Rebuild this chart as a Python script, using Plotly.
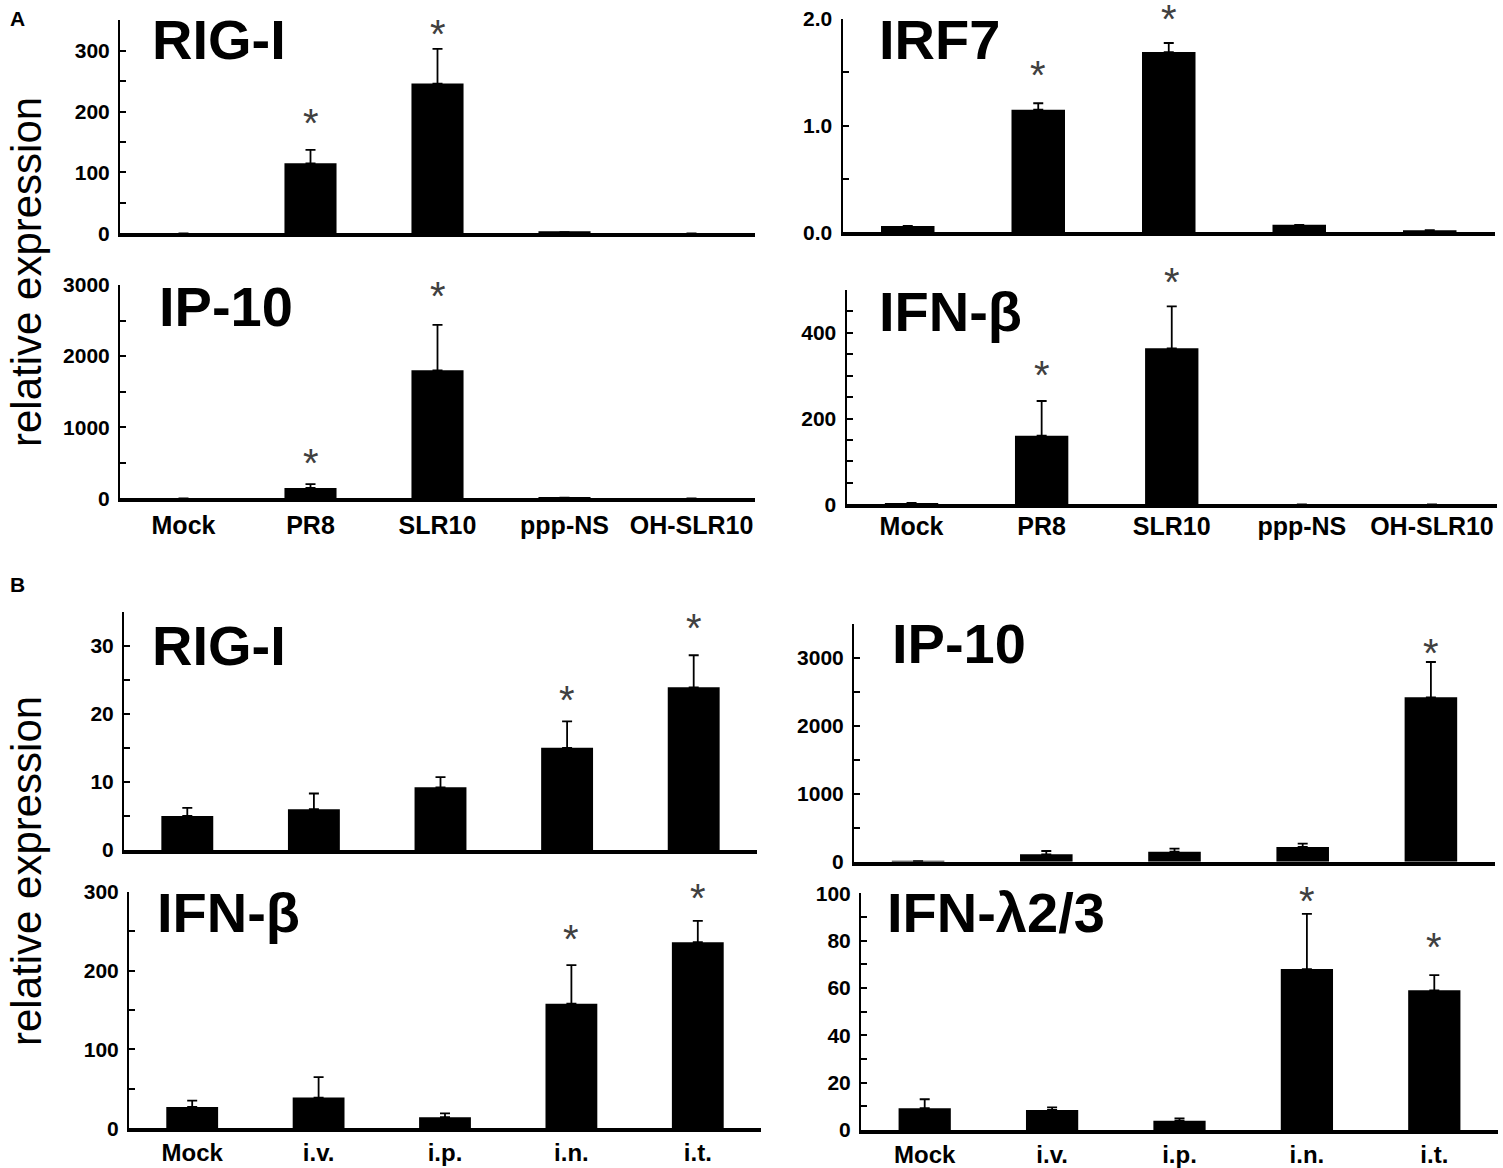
import plotly.graph_objects as go

W, H = 1503, 1168

# ---------------- data ----------------
cats_A = ["Mock", "PR8", "SLR10", "ppp-NS", "OH-SLR10"]
cats_B = ["Mock", "i.v.", "i.p.", "i.n.", "i.t."]

# Panel A
a_rig_val = [0, 115, 246, 2, 0]
a_rig_err = [0, 22, 57, 0, 0]
a_rig_star = [None, 190, 336, None, None]
a_rig_ticks = [0, 50, 100, 150, 200, 250, 300, 350]
a_rig_labels = ["0", "", "100", "", "200", "", "300", ""]

a_irf_val = [0.06, 1.15, 1.69, 0.07, 0.02]
a_irf_err = [0, 0.06, 0.085, 0, 0]
a_irf_star = [None, 1.52, 2.05, None, None]
a_irf_ticks = [0, 0.5, 1.0, 1.5, 2.0]
a_irf_labels = ["0.0", "", "1.0", "", "2.0"]

a_ip_val = [0, 145, 1800, 8, 0]
a_ip_err = [0, 55, 640, 0, 0]
a_ip_star = [None, 567, 2910, None, None]
a_ip_ticks = [0, 500, 1000, 1500, 2000, 2500, 3000]
a_ip_labels = ["0", "", "1000", "", "2000", "", "3000"]

a_ifn_val = [3, 160, 364, 0, 0]
a_ifn_err = [0, 81, 98, 0, 0]
a_ifn_star = [None, 313, 530, None, None]
a_ifn_ticks = [0, 50, 100, 150, 200, 250, 300, 350, 400, 450, 500]
a_ifn_labels = ["0", "", "", "", "200", "", "", "", "400", "", ""]

# Panel B
b_rig_val = [5.0, 6.0, 9.2, 15.0, 23.9]
b_rig_err = [1.2, 2.3, 1.5, 3.9, 4.7]
b_rig_star = [None, None, None, 22.8, 33.3]
b_rig_ticks = [0, 5, 10, 15, 20, 25, 30, 35]
b_rig_labels = ["0", "", "10", "", "20", "", "30", ""]

b_ip_val = [8, 108, 147, 216, 2417]
b_ip_err = [0, 49, 44, 49, 520]
b_ip_star = [None, None, None, None, 3138]
b_ip_ticks = [0, 500, 1000, 1500, 2000, 2500, 3000, 3500]
b_ip_labels = ["0", "", "1000", "", "2000", "", "3000", ""]

b_ifn_val = [27, 39, 14, 158, 236]
b_ifn_err = [8, 26, 5, 49, 27]
b_ifn_star = [None, None, None, 246, 298]
b_ifn_ticks = [0, 50, 100, 150, 200, 250, 300]
b_ifn_labels = ["0", "", "100", "", "200", "", "300"]

b_lam_val = [9.2, 8.5, 3.9, 68, 59]
b_lam_err = [3.8, 1.1, 1.0, 23.3, 6.4]
b_lam_star = [None, None, None, 98.9, 79.6]
b_lam_ticks = [0, 10, 20, 30, 40, 50, 60, 70, 80, 90, 100]
b_lam_labels = ["0", "", "20", "", "40", "", "60", "", "80", "", "100"]

titles = ["RIG-I", "IRF7", "IP-10", "IFN-β", "RIG-I", "IP-10", "IFN-β", "IFN-λ2/3"]
y_title = "relative expression"


# ---------------- layout helpers ----------------
def fx(px):
    return min(max(px / W, 0.0), 1.0)


def fy(py):
    return min(max(1 - py / H, 0.0), 1.0)


panels = [
    # cats, values, errors, stars, ticks, tick labels, x px, y px,
    # (x label standoff, size) or None, title px
    (cats_A, a_rig_val, a_rig_err, a_rig_star, a_rig_ticks, a_rig_labels, (120, 755), (20.3, 233.3), None, (150, 39)),
    (cats_A, a_irf_val, a_irf_err, a_irf_star, a_irf_ticks, a_irf_labels, (842.5, 1495), (19, 232.3), None, (877, 39)),
    (cats_A, a_ip_val, a_ip_err, a_ip_star, a_ip_ticks, a_ip_labels, (120, 755), (285, 498.3), (2, 25), (157, 306)),
    (cats_A, a_ifn_val, a_ifn_err, a_ifn_star, a_ifn_ticks, a_ifn_labels, (846.5, 1497), (290, 504.3), (-3, 25), (877, 311)),
    (cats_B, b_rig_val, b_rig_err, b_rig_star, b_rig_ticks, b_rig_labels, (124, 757), (611.7, 850), None, (150, 645)),
    (cats_B, b_ip_val, b_ip_err, b_ip_star, b_ip_ticks, b_ip_labels, (854, 1495), (623.7, 861.7), None, (890, 643)),
    (cats_B, b_ifn_val, b_ifn_err, b_ifn_star, b_ifn_ticks, b_ifn_labels, (129, 761), (891.7, 1128.3), (0, 24), (155, 912)),
    (cats_B, b_lam_val, b_lam_err, b_lam_star, b_lam_ticks, b_lam_labels, (861, 1498), (893.3, 1130), (0, 24), (885, 912)),
]

FONT = "Liberation Sans, Arial, sans-serif"

fig = go.Figure()
annotations = []
layout_axes = {}

for i, (cats, val, err, star, ticks, labels, xpx, ypx, xlab, tpos) in enumerate(panels):
    n = i + 1
    xa = "x" if n == 1 else f"x{n}"
    ya = "y" if n == 1 else f"y{n}"
    xkey = "xaxis" if n == 1 else f"xaxis{n}"
    ykey = "yaxis" if n == 1 else f"yaxis{n}"

    fig.add_trace(go.Bar(
        x=cats, y=val, xaxis=xa, yaxis=ya,
        marker=dict(color="black", line=dict(width=0)),
        width=0.41,
        error_y=dict(type="data", symmetric=False, array=err,
                     arrayminus=[0] * len(err), color="black",
                     thickness=1.8, width=5),
        showlegend=False, hoverinfo="x+y",
    ))

    layout_axes[xkey] = dict(
        domain=[fx(xpx[0]), fx(xpx[1])],
        anchor=ya, type="category", categoryorder="array", categoryarray=cats,
        range=[-0.5, 4.5], showline=True, linecolor="black", linewidth=3.5,
        ticks="", showgrid=False, zeroline=False,
        showticklabels=xlab is not None,
        tickfont=dict(family=FONT, size=xlab[1] if xlab else 25,
                      color="black", weight="bold"),
        ticklabelstandoff=xlab[0] if xlab else 0,
        ticklabeloverflow="allow",
        automargin=False,
    )
    layout_axes[ykey] = dict(
        domain=[fy(ypx[1]), fy(ypx[0])],
        anchor=xa, range=[ticks[0], ticks[-1]],
        tickmode="array", tickvals=ticks, ticktext=labels,
        ticks="inside", ticklen=6, tickwidth=2, tickcolor="black",
        showline=True, linecolor="black", linewidth=2,
        showgrid=False, zeroline=False,
        tickfont=dict(family=FONT, size=21, color="black", weight="bold"),
        ticklabelstandoff=4,
        ticklabeloverflow="allow",
        automargin=False,
    )

    # significance asterisks: text sits at the (invisible) arrow tail,
    # the head is anchored on the bar so stars above the axis top still show
    for c, v, s in zip(cats, val, star):
        if s is not None:
            annotations.append(dict(
                x=c, y=v, xref=xa, yref=ya,
                ax=c, ay=s, axref=xa, ayref=ya,
                text="*", showarrow=True, arrowcolor="rgba(0,0,0,0)",
                arrowwidth=0.1, arrowhead=0,
                xanchor="center", yanchor="middle", yshift=-5,
                font=dict(family=FONT, size=40, color="#404040"),
            ))

    annotations.append(dict(
        x=fx(tpos[0]), y=fy(tpos[1]), xref="paper", yref="paper",
        text=titles[i], showarrow=False, xanchor="left", yanchor="middle",
        font=dict(family=FONT, size=56, color="black", weight="bold"),
    ))

# Y-axis titles
for yc in (272, 871):
    annotations.append(dict(
        x=fx(26), y=fy(yc), xref="paper", yref="paper", text=y_title,
        showarrow=False, textangle=-90, xanchor="center", yanchor="middle",
        font=dict(family=FONT, size=42, color="black"),
    ))

# Panel letters
for lbl, yc in (("A", 18), ("B", 584)):
    annotations.append(dict(
        x=fx(8), y=fy(yc), xref="paper", yref="paper", text=lbl,
        showarrow=False, xanchor="left", yanchor="middle",
        font=dict(family=FONT, size=21, color="black", weight="bold"),
    ))

fig.update_layout(
    width=W, height=H,
    margin=dict(l=0, r=0, t=0, b=0, autoexpand=False),
    paper_bgcolor="white", plot_bgcolor="white",
    annotations=annotations,
    **layout_axes,
)

fig.write_html(
    "out.html",
    config={"displayModeBar": False},
    post_script="document.body.style.margin='0';document.body.style.overflow='hidden';",
)
